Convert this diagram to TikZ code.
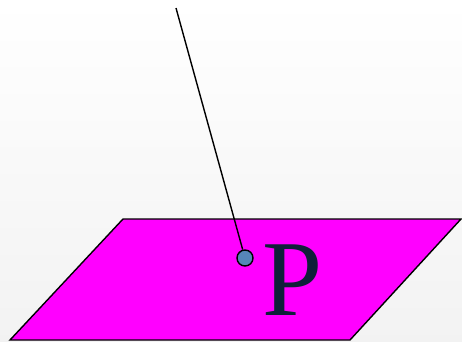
\documentclass[tikz,border=0pt]{standalone}
\usepackage{fontspec}
\setmainfont{Liberation Serif}
\usepackage{xcolor}
\usepackage{tikz}
\definecolor{planecol}{HTML}{FF00FF}
\definecolor{pointcol}{HTML}{5685B8}
\definecolor{labelcol}{HTML}{0F1F3A}

\begin{document}
\begin{tikzpicture}[
  x=1pt,y=-1pt,
  plane/.style={draw=black,line width=1.4pt,fill=planecol,line join=miter},
  dot/.style={circle,draw=black,line width=1.4pt,fill=pointcol,minimum size=16pt,inner sep=0pt},
  lbl/.style={text=labelcol,font=\fontsize{108}{108}\selectfont,inner sep=0pt,anchor=base west},
  ray/.style={line width=1.4pt}
]
\shade[top color=white,bottom color=black!5] (0,0) rectangle (462,341);
\useasboundingbox (0,0) rectangle (462,341);
\filldraw[plane] (10,340) -- (123,219) -- (461,219) -- (350,340) -- cycle;
\coordinate (top) at (176,8);
\node[dot] (pt) at (245,258) {};
\node[lbl] (name) at (262,315) {P};
\draw[ray] (top) -- (pt);
\end{tikzpicture}
\end{document}
